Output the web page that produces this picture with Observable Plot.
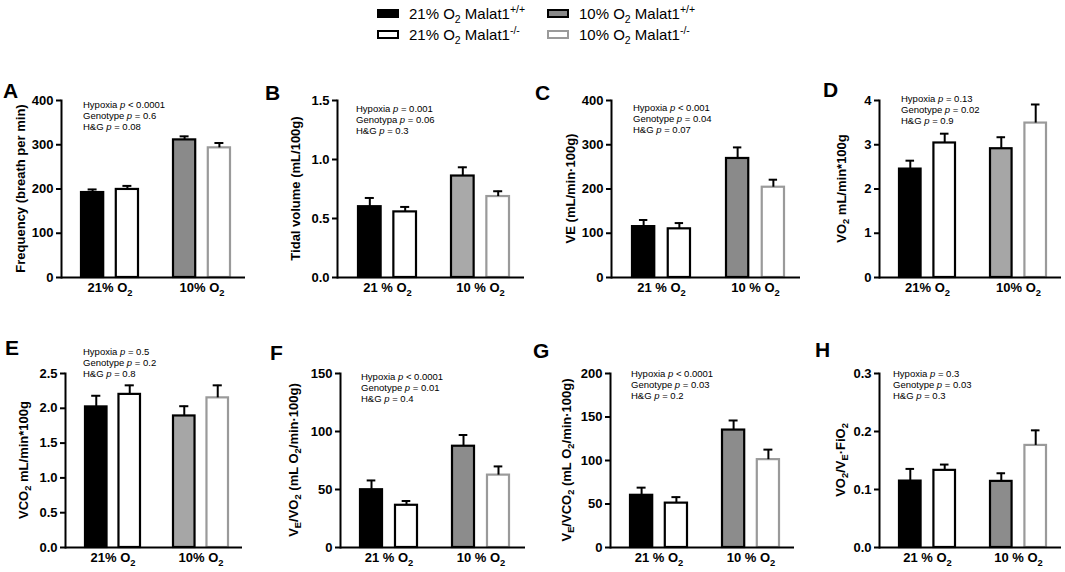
<!DOCTYPE html>
<html><head><meta charset="utf-8">
<script src="https://cdn.jsdelivr.net/npm/d3@7"></script>
<script src="https://cdn.jsdelivr.net/npm/@observablehq/plot@0.6"></script>
<style>
body{margin:0;background:#fff;}
#root{position:relative;width:1065px;height:572px;overflow:hidden;font-family:"Liberation Sans",Arial,sans-serif;color:#000;background:#fff;}
.abs{position:absolute;white-space:nowrap;}
.letter{font-size:21px;font-weight:bold;line-height:21px;}
.stats{font-size:9.5px;line-height:11px;}
.leg{font-size:15px;line-height:15px;}
.sw{position:absolute;width:18px;height:5px;border:2px solid #000;}
sub,sup{font-size:70%;line-height:0;}
svg{overflow:visible;}
</style></head><body><div id="root"></div>
<script>
// ---------------- DATA ----------------
const panelLetters = ["A","B","C","D","E","F","G","H"];
const seriesNames = ["21% O_{2} Malat1^{+/+}", "21% O_{2} Malat1^{-/-}", "10% O_{2} Malat1^{+/+}", "10% O_{2} Malat1^{-/-}"];
const groupLabelsNoSpace = ["21% O_{2}", "10% O_{2}"];
const groupLabelsSpace = ["21 % O_{2}", "10 % O_{2}"];
const xLabels = [groupLabelsNoSpace, groupLabelsSpace, groupLabelsSpace, groupLabelsNoSpace,
                 groupLabelsNoSpace, groupLabelsSpace, groupLabelsSpace, groupLabelsSpace];
const yTitles = ["Frequency (breath per min)", "Tidal volume (mL/100g)", "VE (mL/min·100g)",
  "VO_{2} mL/min*100g", "VCO_{2} mL/min*100g", "V_{E}/VO_{2} (mL O_{2}/min·100g)",
  "V_{E}/VCO_{2} (mL O_{2}/min·100g)", "VO_{2}/V_{E}·FiO_{2}"];
const yMax = [400, 1.5, 400, 4, 2.5, 150, 200, 0.3];
const yTicks = [[0,100,200,300,400],[0,0.5,1.0,1.5],[0,100,200,300,400],[0,1,2,3,4],
  [0,0.5,1.0,1.5,2.0,2.5],[0,50,100,150],[0,50,100,150,200],[0,0.1,0.2,0.3]];
const yFormats = ["d",".1f","d","d",".1f","d","d",".1f"];
// series order per panel: 21% +/+, 21% -/-, 10% +/+, 10% -/-
const means = [
  [192, 199, 311, 293],
  [0.60, 0.556, 0.86, 0.686],
  [115, 110, 269, 204],
  [2.45, 3.04, 2.91, 3.49],
  [2.02, 2.20, 1.89, 2.15],
  [49.8, 36.4, 87.3, 62.4],
  [60, 51, 135, 101],
  [0.1145, 0.133, 0.114, 0.176]
];
const sems = [
  [7, 8, 8, 11],
  [0.074, 0.042, 0.074, 0.045],
  [15, 13, 25, 17],
  [0.19, 0.21, 0.26, 0.42],
  [0.16, 0.13, 0.14, 0.18],
  [8, 3.7, 9.7, 7.5],
  [8.8, 6.9, 11, 11.5],
  [0.021, 0.010, 0.014, 0.026]
];
const statLabels = [
  ["Hypoxia","Genotype","H&G"],["Hypoxia","Genotypa","H&G"],["Hypoxia","Genotype","H&G"],["Hypoxia","Genotype","H&G"],
  ["Hypoxia","Genotype","H&G"],["Hypoxia","Genotype","H&G"],["Hypoxia","Genotype","H&G"],["Hypoxia","Genotype","H&G"]
];
const statValues = [
  ["< 0.0001","= 0.6","= 0.08"],
  ["= 0.001","= 0.06","= 0.3"],
  ["< 0.001","= 0.04","= 0.07"],
  ["= 0.13","= 0.02","= 0.9"],
  ["= 0.5","= 0.2","= 0.8"],
  ["< 0.0001","= 0.01","= 0.4"],
  ["< 0.0001","= 0.03","= 0.2"],
  ["= 0.3","= 0.03","= 0.3"]
];

// ---------------- STYLE / LAYOUT ----------------
const grayFills = ["#8a8a8a","#a9a9a9","#8a8a8a","#a6a6a6","#a6a6a6","#8c8c8c","#8c8c8c","#8c8c8c"];
const lightStroke = "#9a9a9a";
const seriesFill = (i,k) => ["#000","#fff",grayFills[i],"#fff"][k];
const seriesStroke = k => ["#000","#000","#000",lightStroke][k];
const layout = [
  {ax:61,  top:100, h:177, L:184, lab:39, lx:3,   ly:80,  sx:83,  sy:98.8},
  {ax:337, top:100, h:177, L:187, lab:40, lx:265, ly:82,  sx:356, sy:102.8},
  {ax:611, top:100, h:177, L:189, lab:39, lx:535, ly:82,  sx:633, sy:101.8},
  {ax:879, top:100, h:177, L:182, lab:36, lx:823, ly:79,  sx:901, sy:92.8},
  {ax:65,  top:373, h:174, L:177, lab:40, lx:5,   ly:337, sx:83,  sy:346},
  {ax:340, top:373, h:174, L:185, lab:45, lx:270, ly:342, sx:361, sy:371},
  {ax:610, top:373, h:174, L:184, lab:42, lx:533, ly:340, sx:631, sy:368},
  {ax:879, top:373, h:174, L:182, lab:37, lx:815, ly:339, sx:893, sy:368}
];
const legendPos = [ // order as seriesNames
  {x:377, y:9}, {x:377, y:30}, {x:547, y:9}, {x:547, y:30}
];
const FONT = '"Liberation Sans", Arial, sans-serif';

// ---------------- HELPERS ----------------
function parseMarkup(s){
  const parts = s.split(/(_\{[^}]*\}|\^\{[^}]*\})/).filter(p=>p.length);
  return parts.map(p => p.startsWith("_{") ? {t:p.slice(2,-1),k:"sub"} : p.startsWith("^{") ? {t:p.slice(2,-1),k:"sup"} : {t:p,k:""});
}
function toHtml(s){
  return parseMarkup(s).map(p => {
    const t = p.t.replace(/&/g,"&amp;").replace(/</g,"&lt;");
    return p.k==="sub" ? `<sub>${t}</sub>` : p.k==="sup" ? `<sup>${t}</sup>` : t;
  }).join("");
}
function fillSvgText(sel, s, fs){
  sel.text(null);
  let shift = 0;
  parseMarkup(s).forEach(p => {
    const want = p.k==="sub" ? 0.3*fs : p.k==="sup" ? -0.4*fs : 0;
    const ts = sel.append("tspan").text(p.t).attr("dy", want - shift);
    if (p.k) ts.attr("font-size", 0.72*fs);
    shift = want;
  });
}

const root = document.getElementById("root");
function addDiv(cls, x, y, html){
  const d = document.createElement("div");
  d.className = "abs " + cls;
  d.style.left = x + "px"; d.style.top = y + "px";
  d.innerHTML = html;
  root.appendChild(d);
  return d;
}

// ---------------- LEGEND ----------------
seriesNames.forEach((name, k) => {
  const p = legendPos[k];
  const sw = document.createElement("div");
  sw.className = "sw";
  sw.style.left = p.x + "px"; sw.style.top = p.y + "px";
  sw.style.background = k===2 ? "#888" : seriesFill(0,k);
  sw.style.borderColor = seriesStroke(k);
  root.appendChild(sw);
  addDiv("leg", p.x + 32, p.y - 3.5, toHtml(name));
});

// ---------------- PANELS ----------------
const pInner = 0.38, pOuter = 0.19, pAlign = 0.57;
panelLetters.forEach((letter, i) => {
  const g = layout[i];
  const ML = 60, MR = 8, MT = 10, MB = 32;
  const step = g.L / (2 - pInner + 2*pOuter);
  const bw = step * (1 - pInner);
  const barW = bw * 0.39;
  const off = (bw - barW) / 2;
  const capW = 9;
  const rows = means[i].map((m, k) => ({
    group: xLabels[i][Math.floor(k/2)], k, mean: m, err: sems[i][k]
  }));
  const marks = [];
  rows.forEach(d => {
    const leftBar = d.k % 2 === 0;
    marks.push(Plot.barY([d], {
      x: "group", y: "mean", fill: seriesFill(i, d.k), stroke: seriesStroke(d.k), strokeWidth: 2.2,
      insetLeft: leftBar ? 0 : bw - barW, insetRight: leftBar ? bw - barW : 0
    }));
  });
  rows.forEach(d => {
    const leftBar = d.k % 2 === 0;
    const center = leftBar ? barW/2 : bw - barW/2;
    marks.push(Plot.ruleX([d], {
      x: "group", y1: "mean", y2: r => r.mean + r.err, dx: leftBar ? -off : off,
      stroke: "#000", strokeWidth: 2
    }));
    marks.push(Plot.tickY([d], {
      x: "group", y: r => r.mean + r.err, stroke: "#000", strokeWidth: 2,
      insetLeft: center - capW/2, insetRight: bw - center - capW/2
    }));
  });
  marks.push(Plot.ruleY([0], {stroke: "#000", strokeWidth: 2}));
  marks.push(Plot.frame({anchor: "left", stroke: "#000", strokeWidth: 2}));
  marks.push(Plot.axisY(yTicks[i], {tickSize: 5, tickPadding: 3, strokeWidth: 2, tickFormat: d3.format(yFormats[i]), label: null}));
  marks.push(Plot.axisX({tickSize: 0, tickPadding: 5, label: null}));

  const svg = Plot.plot({
    width: ML + g.L + MR, height: MT + g.h + MB,
    marginLeft: ML, marginRight: MR, marginTop: MT, marginBottom: MB,
    x: {domain: xLabels[i], paddingInner: pInner, paddingOuter: pOuter, align: pAlign},
    y: {domain: [0, yMax[i]]},
    style: {fontFamily: FONT, fontSize: "13px", fontWeight: "bold", color: "#000", background: "transparent", overflow: "visible"},
    marks
  });
  svg.style.position = "absolute";
  svg.style.left = (g.ax - ML) + "px";
  svg.style.top = (g.top - MT) + "px";
  root.appendChild(svg);

  const s = d3.select(svg);
  s.selectAll('g[aria-label="x-axis tick label"] text').each(function(){
    fillSvgText(d3.select(this), this.textContent, 13);
  });
  const t = s.append("text")
    .attr("transform", `translate(${ML - g.lab},${MT + g.h/2}) rotate(-90)`)
    .attr("text-anchor", "middle").attr("dominant-baseline", "middle")
    .attr("font-size", 13).attr("font-weight", "bold").attr("fill", "#000")
    .attr("font-family", FONT);
  fillSvgText(t, yTitles[i], 13);

  addDiv("letter", g.lx, g.ly, letter);
  addDiv("stats", g.sx, g.sy,
    statLabels[i].map((lab, j) => `${lab.replace("&","&amp;")} <i>p</i> ${statValues[i][j].replace("<","&lt;")}`).join("<br>"));
});
</script></body></html>
